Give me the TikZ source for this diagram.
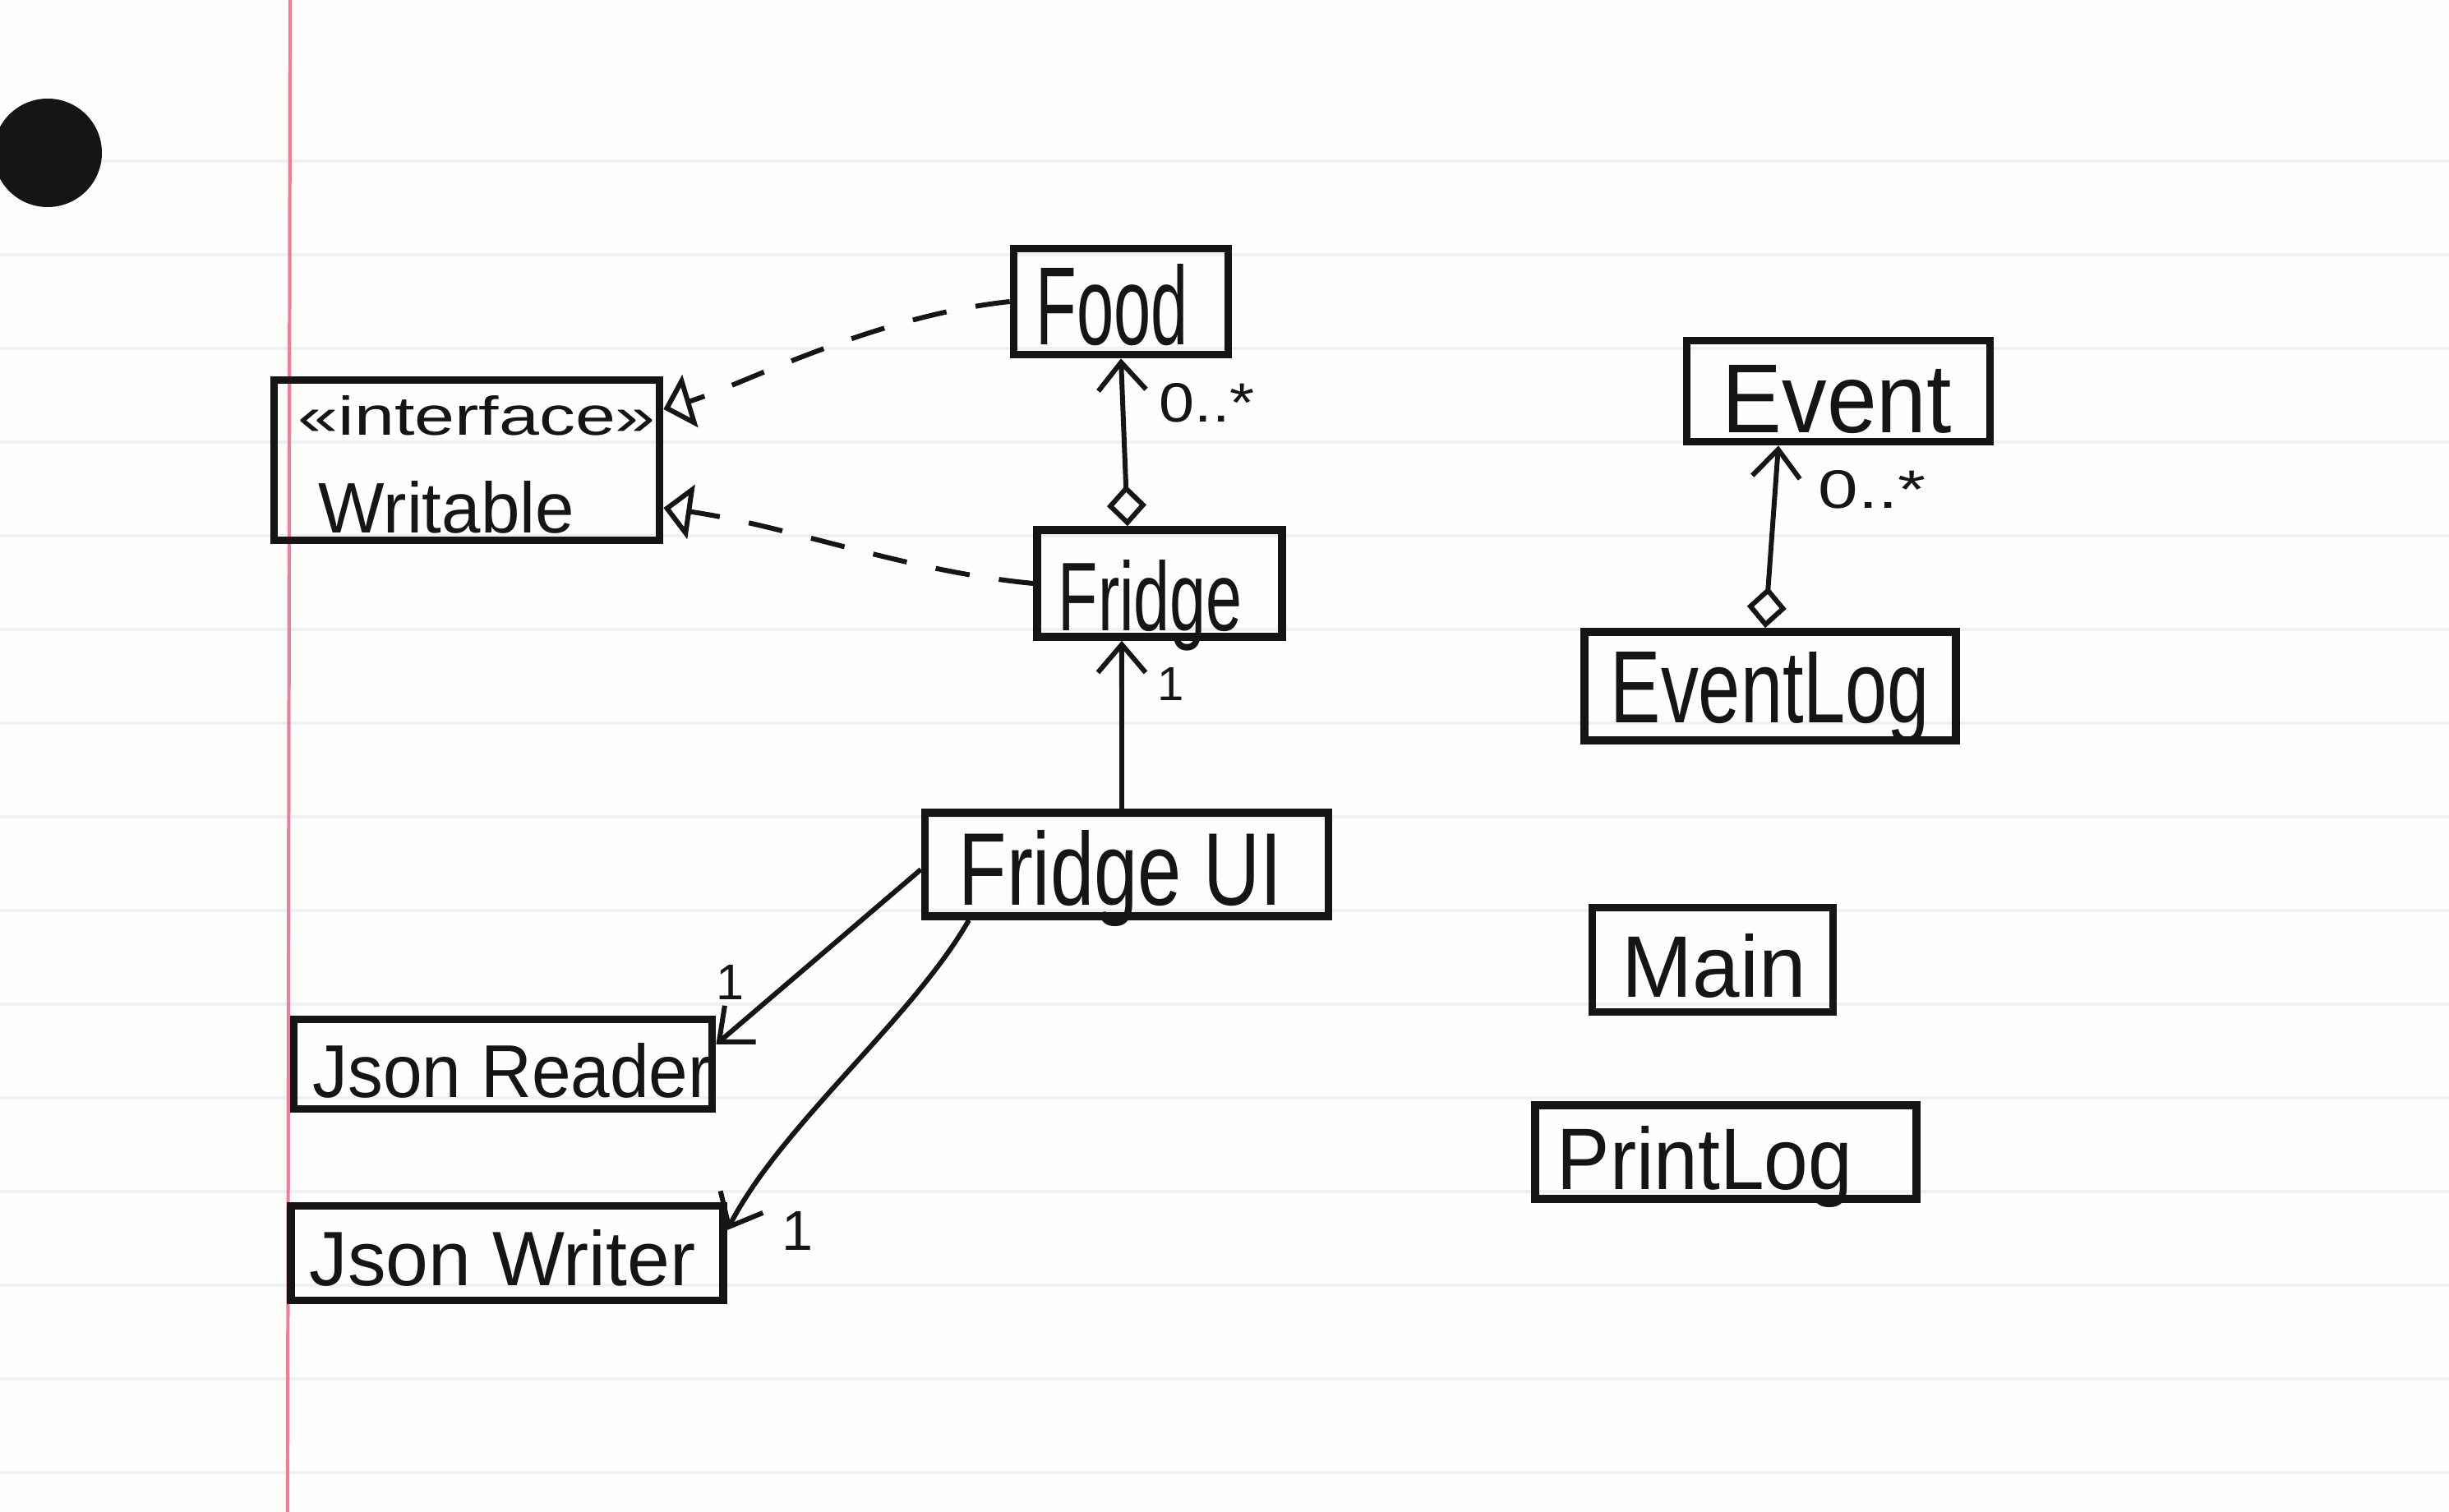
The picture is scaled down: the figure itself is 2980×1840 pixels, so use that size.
\documentclass[tikz,border=0pt]{standalone}
\usepackage{fontspec}
\setmainfont{Liberation Sans}
\usetikzlibrary{arrows.meta,calc}
\definecolor{ink}{RGB}{22,20,20}
\definecolor{rulecol}{RGB}{238,240,244}
\definecolor{margincol}{RGB}{232,130,152}
\definecolor{paper}{RGB}{254,254,252}
\tikzset{
  hbarb/.tip={Straight Barb[length=0.34cm,width=0.58cm]},
  htri/.tip={Triangle[open,length=0.34cm,width=0.66cm]},
  hdia/.tip={Diamond[open,length=0.5cm,width=0.48cm]}
}
\begin{document}
\begin{tikzpicture}[x=0.01cm,y=-0.01cm,
  box/.style={draw=ink,line width=2.7pt,inner sep=0pt,rectangle},
  lbl/.style={inner sep=0pt,text=ink,anchor=base west},
  mult/.style={inner sep=0pt,text=ink,anchor=center},
  conn/.style={draw=ink,line width=1.7pt},
  dashconn/.style={conn,dash pattern=on 0.42cm off 0.36cm}]
% paper
\useasboundingbox (0,0) rectangle (2980,1840);
\fill[paper] (0,0) rectangle (2980,1840);
\foreach \k in {0,...,14} \draw[rulecol,line width=1.3pt] (0,{196+114*\k}) -- (2980,{196+114*\k});
\draw[margincol,line width=1.2pt] (353,0) -- (350,1840);
\begin{scope}
\clip (0,0) rectangle (2980,1840);
\fill[ink] (58,186) circle[radius=66];
\end{scope}
% boxes
\node[box,minimum width=2.61cm,minimum height=1.29cm] (food) at (1364,367) {};
\node[box,minimum width=4.69cm,minimum height=1.95cm] (writ) at (568,560) {};
\node[box,minimum width=2.98cm,minimum height=1.30cm] (fridge) at (1411,710) {};
\node[box,minimum width=3.69cm,minimum height=1.23cm] (event) at (2237,476) {};
\node[box,minimum width=4.52cm,minimum height=1.32cm] (elog) at (2154,835) {};
\node[box,minimum width=4.91cm,minimum height=1.26cm] (fui) at (1371,1052) {};
\node[box,minimum width=5.09cm,minimum height=1.09cm] (jr) at (612,1295) {};
\node[box,minimum width=5.26cm,minimum height=1.15cm] (jw) at (617,1525) {};
\node[box,minimum width=2.93cm,minimum height=1.27cm] (main) at (2084,1168) {};
\node[box,minimum width=4.64cm,minimum height=1.14cm] (plog) at (2100,1402) {};
% labels
\node[lbl] (tfood) at (1260,420) {\resizebox{1.85cm}{0.98cm}{Food}};
\node[lbl] (tiface) at (362,530) {\resizebox{4.35cm}{0.48cm}{«interface»}};
\node[lbl] (twrit) at (387,649) {\resizebox{3.11cm}{0.63cm}{Writable}};
\node[lbl] (tfridge) at (1287,768) {\resizebox{2.24cm}{0.86cm}{Fridge}};
\node[lbl] (tevent) at (2095,527) {\resizebox{2.79cm}{0.82cm}{Event}};
\node[lbl] (telog) at (1959,880) {\resizebox{3.88cm}{0.86cm}{EventLog}};
\node[lbl] (tfui) at (1166,1102) {\resizebox{3.93cm}{0.91cm}{Fridge UI}};
\node[lbl] (tjr) at (380,1336) {\resizebox{4.85cm}{0.66cm}{Json Reader}};
\node[lbl] (tjw) at (376,1564) {\resizebox{4.69cm}{0.68cm}{Json Writer}};
\node[lbl] (tmain) at (1973,1214) {\resizebox{2.24cm}{0.77cm}{Main}};
\node[lbl] (tplog) at (1894,1448) {\resizebox{3.59cm}{0.77cm}{PrintLog}};
% multiplicities
\node[mult] (m1) at (1469,490) {\resizebox{1.16cm}{0.47cm}{0..*}};
\node[mult] (m2) at (2278,596) {\resizebox{1.31cm}{0.46cm}{0..*}};
\node[mult] (m3) at (1425,832) {\resizebox{!}{0.40cm}{1}};
\node[mult] (m4) at (888,1195) {\resizebox{!}{0.42cm}{1}};
\node[mult] (m5) at (970,1498) {\resizebox{!}{0.47cm}{1}};
% connectors
\draw[dashconn,-htri] (food.west) .. controls (1060,385) and (900,470) .. ([yshift=0.62cm]writ.east);
\draw[dashconn,-htri] (fridge.west) .. controls (1100,695) and (960,640) .. ([yshift=-0.58cm]writ.east);
\draw[conn,hdia-hbarb] ([xshift=-0.39cm]fridge.north) -- (food.south);
\draw[conn,-hbarb] ([xshift=-0.06cm]fui.north) -- ([xshift=-0.46cm]fridge.south);
\draw[conn,-hbarb] ([yshift=-0.06cm]fui.west) -- ([yshift=0.24cm]jr.east);
\draw[conn,-hbarb] ([xshift=-1.92cm]fui.south) .. controls (1110,1240) and (950,1370) .. ([yshift=0.28cm]jw.east);
\draw[conn,hdia-hbarb] ([xshift=-0.06cm]elog.north) -- ([xshift=-0.73cm]event.south);
\end{tikzpicture}
\end{document}
